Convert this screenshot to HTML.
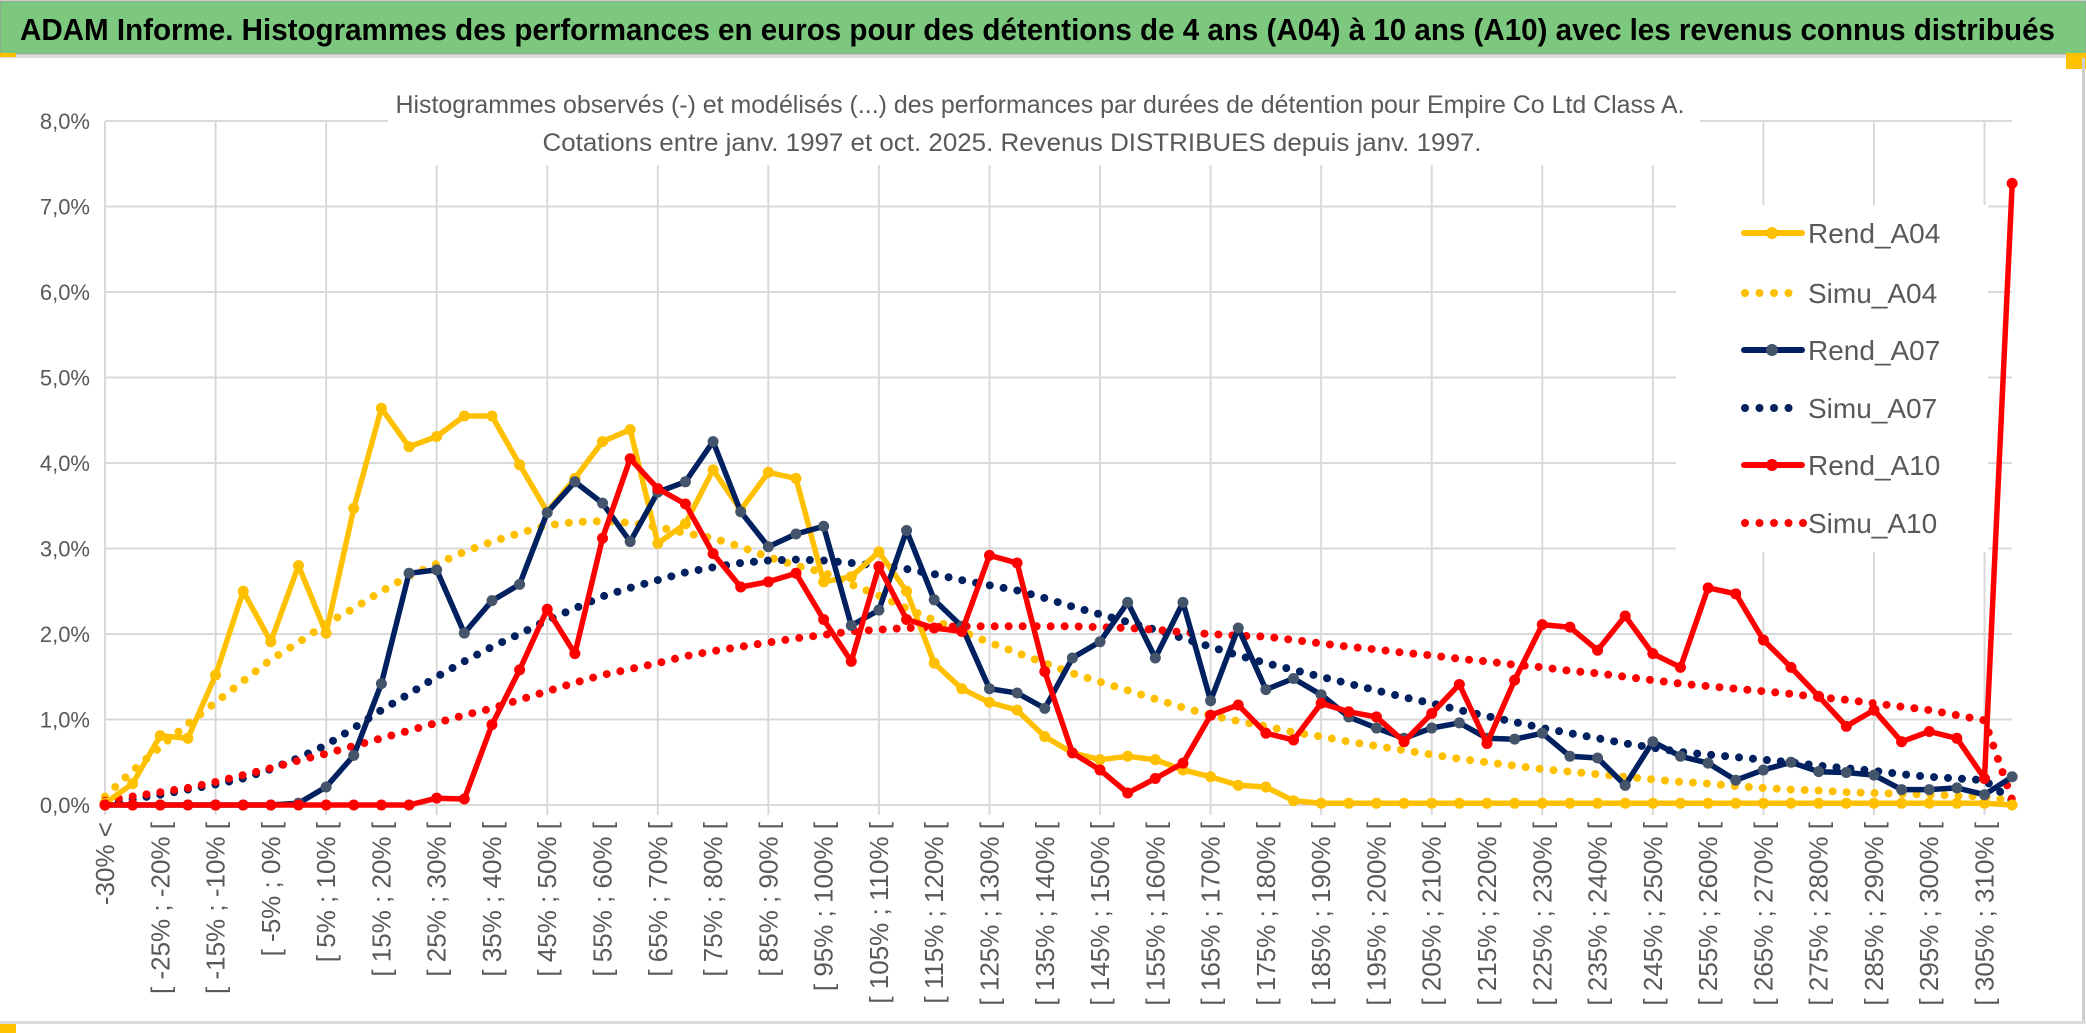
<!DOCTYPE html>
<html><head><meta charset="utf-8"><style>
html,body{margin:0;padding:0;background:#fff;}
svg{display:block;font-family:"Liberation Sans Narrow","Liberation Sans",sans-serif;}
</style></head><body>
<svg id="chart" width="2086" height="1033" viewBox="0 0 2086 1033" xmlns="http://www.w3.org/2000/svg">
<rect x="0" y="0" width="2086" height="1033" fill="#fff"/>
<rect x="0" y="1" width="2086" height="53" fill="#7DC87F" stroke="#999" stroke-width="1"/>
<text x="20" y="40" font-size="31" font-weight="bold" fill="#000" textLength="2035" lengthAdjust="spacingAndGlyphs">ADAM Informe. Histogrammes des performances en euros pour des détentions de 4 ans (A04) à 10 ans (A10) avec les revenus connus distribués</text>
<rect x="0" y="55" width="2086" height="3" fill="#ddd"/>
<rect x="0" y="53" width="16" height="4" fill="#FFC000"/>
<rect x="2066" y="53" width="20" height="16" fill="#FFC000"/>
<rect x="2082" y="58" width="3" height="966" fill="#ccc"/>
<rect x="0" y="1021" width="2086" height="3" fill="#ddd"/>
<rect x="0" y="1024" width="16" height="9" fill="#FFC000"/>
<g id="grid"></g>
<g id="series"></g>
<g id="yaxis"></g>
<g id="xaxis"></g>
<g>
<text x="1040" y="113" font-size="25" fill="#595959" text-anchor="middle" textLength="1289" lengthAdjust="spacingAndGlyphs">Histogrammes observés (-) et modélisés (...) des performances par durées de détention pour Empire Co Ltd Class A.</text>
<text x="1012" y="151" font-size="25" fill="#595959" text-anchor="middle" textLength="939" lengthAdjust="spacingAndGlyphs">Cotations entre janv. 1997 et oct. 2025. Revenus DISTRIBUES depuis janv. 1997.</text>
</g>
<g id="legend"></g>
</svg>
<script>
const yTicks = [0,1,2,3,4,5,6,7,8];
const yTickLabels = ["0,0%","1,0%","2,0%","3,0%","4,0%","5,0%","6,0%","7,0%","8,0%"];
const binStarts = [];
for (let k = -35; k <= 310; k += 5) binStarts.push(k);
const rendA04 = [0.02,0.25,0.81,0.78,1.52,2.5,1.91,2.8,2.01,3.47,4.64,4.19,4.31,4.55,4.55,3.98,3.43,3.82,4.25,4.39,3.06,3.29,3.92,3.45,3.89,3.82,2.61,2.67,2.96,2.5,1.66,1.36,1.2,1.11,0.8,0.61,0.53,0.57,0.53,0.41,0.33,0.23,0.21,0.05,0.02,0.02,0.02,0.02,0.02,0.02,0.02,0.02,0.02,0.02,0.02,0.02,0.02,0.02,0.02,0.02,0.02,0.02,0.02,0.02,0.02,0.02,0.02,0.02,0.02,0.0];
const simuA04 = [0.1,0.4,0.68,0.95,1.2,1.45,1.7,1.9,2.12,2.3,2.5,2.68,2.82,2.96,3.08,3.18,3.27,3.31,3.32,3.3,3.25,3.18,3.12,3.02,2.9,2.8,2.72,2.58,2.45,2.3,2.16,2.03,1.9,1.78,1.66,1.54,1.44,1.34,1.24,1.14,1.05,0.98,0.92,0.85,0.8,0.74,0.69,0.64,0.59,0.54,0.5,0.46,0.42,0.39,0.36,0.33,0.3,0.27,0.25,0.22,0.2,0.18,0.17,0.15,0.14,0.13,0.12,0.11,0.1,0.05];
const rendA07 = [0,0,0,0,0,0,0,0.02,0.21,0.58,1.42,2.71,2.75,2.01,2.39,2.58,3.42,3.78,3.53,3.08,3.66,3.78,4.25,3.43,3.02,3.17,3.26,2.1,2.28,3.21,2.4,2.09,1.36,1.31,1.13,1.72,1.91,2.37,1.72,2.37,1.22,2.07,1.35,1.48,1.29,1.03,0.9,0.78,0.9,0.96,0.78,0.77,0.84,0.57,0.55,0.23,0.74,0.57,0.49,0.29,0.41,0.5,0.39,0.38,0.35,0.18,0.18,0.2,0.12,0.33];
const simuA07 = [0.02,0.07,0.12,0.18,0.24,0.31,0.42,0.55,0.7,0.9,1.11,1.3,1.5,1.68,1.85,2.0,2.16,2.3,2.44,2.54,2.63,2.72,2.78,2.83,2.86,2.87,2.86,2.83,2.8,2.76,2.7,2.63,2.57,2.51,2.42,2.32,2.23,2.14,2.05,1.95,1.85,1.75,1.66,1.58,1.5,1.42,1.34,1.26,1.19,1.11,1.04,0.97,0.9,0.84,0.78,0.72,0.67,0.62,0.59,0.56,0.53,0.5,0.46,0.43,0.4,0.36,0.33,0.31,0.29,0.05];
const rendA10 = [0,0,0,0,0,0,0,0,0,0,0,0,0.08,0.07,0.94,1.58,2.29,1.77,3.12,4.05,3.7,3.52,2.94,2.55,2.61,2.71,2.17,1.68,2.79,2.17,2.07,2.03,2.92,2.83,1.56,0.61,0.41,0.14,0.31,0.49,1.05,1.17,0.84,0.76,1.19,1.09,1.03,0.74,1.07,1.41,0.72,1.46,2.11,2.08,1.81,2.21,1.77,1.61,2.54,2.47,1.93,1.61,1.27,0.92,1.11,0.74,0.86,0.78,0.31,7.27];
const simuA10 = [0.05,0.1,0.15,0.2,0.27,0.35,0.43,0.52,0.6,0.69,0.78,0.87,0.96,1.05,1.13,1.23,1.33,1.43,1.52,1.59,1.66,1.74,1.8,1.85,1.9,1.95,1.99,2.03,2.05,2.07,2.08,2.09,2.09,2.09,2.09,2.09,2.08,2.07,2.05,2.02,2.0,1.98,1.97,1.93,1.89,1.85,1.82,1.78,1.75,1.71,1.68,1.64,1.61,1.57,1.54,1.5,1.46,1.42,1.39,1.36,1.33,1.3,1.26,1.23,1.19,1.15,1.11,1.05,0.99,0.06];

const NS = "http://www.w3.org/2000/svg";
const X0 = 105, STEP = 27.64, Y0 = 805, YPER = 85.5, XR = 2012;
function xs(i){ return X0 + STEP * i; }
function ys(v){ return Y0 - YPER * v; }
function mk(tag, attrs, parent){ const e = document.createElementNS(NS, tag); for (const k in attrs) e.setAttribute(k, attrs[k]); parent.appendChild(e); return e; }

const grid = document.getElementById('grid');
yTicks.forEach(function(t){
  const l = mk('line', {x1: X0, x2: XR, y1: ys(t), y2: ys(t), stroke: '#d9d9d9', 'stroke-width': 2}, grid);
  
  
});
for (let i = 0; i < binStarts.length; i += 4) {
  const l = mk('line', {x1: xs(i), x2: xs(i), y1: ys(8), y2: Y0 + 10, stroke: '#d9d9d9', 'stroke-width': 2}, grid);
  
  
}
const sb = mk('rect', {x: 388, y: 60, width: 1312, height: 105, fill: '#fff'}, grid);


const lb = mk('rect', {x: 1676, y: 205, width: 312, height: 347, fill: '#fff'}, grid);



const yax = document.getElementById('yaxis');
yTicks.forEach(function(t, k){
  const tx = mk('text', {x: 90, y: ys(t) + 8, 'font-size': 22, fill: '#595959', 'text-anchor': 'end'}, yax);
  tx.textContent = yTickLabels[k];
  
  
});

const xax = document.getElementById('xaxis');
binStarts.forEach(function(b, i){
  if (i !== 0 && i % 2 !== 0) return;
  const lab = i === 0 ? '-30% <' : '[ ' + b + '% ; ' + (b + 5) + '% [';
  const tx = mk('text', {x: 0, y: 0, 'font-size': 26, fill: '#595959', 'text-anchor': 'end', transform: 'translate(' + (xs(i) + 9) + ',822) rotate(-90)'}, xax);
  tx.setAttribute('font-family', '"Liberation Sans", sans-serif');
  tx.textContent = lab;
  
  
});

const ser = document.getElementById('series');
function dotted(vals, color, name){
  const pts = vals.map(function(v, i){ return xs(i).toFixed(1) + ',' + ys(v).toFixed(1); }).join(' ');
  const p = mk('polyline', {points: pts, fill: 'none', stroke: color, 'stroke-width': 8, 'stroke-linecap': 'round', 'stroke-dasharray': '0 14'}, ser);
  
  
}
function solid(vals, color, mcolor, name){
  const g = mk('g', {}, ser);
  
  
  const pts = vals.map(function(v, i){ return xs(i).toFixed(1) + ',' + ys(v).toFixed(1); }).join(' ');
  const p = mk('polyline', {points: pts, fill: 'none', stroke: color, 'stroke-width': 5.5, 'stroke-linejoin': 'round'}, g);
  
  
  vals.forEach(function(v, i){
    const c = mk('circle', {cx: xs(i), cy: ys(v), r: 5.5, fill: mcolor}, g);
    
    
  });
}
dotted(simuA04, '#FFC000', 'simu-a04');
dotted(simuA07, '#002060', 'simu-a07');
dotted(simuA10, '#FF0000', 'simu-a10');
solid(rendA04, '#FFC000', '#FFC000', 'rend-a04');
solid(rendA07, '#002060', '#44546A', 'rend-a07');
solid(rendA10, '#FF0000', '#FF0000', 'rend-a10');

const leg = document.getElementById('legend');
const legItems = [
  ['Rend_A04', '#FFC000', '#FFC000', 'solid', 233],
  ['Simu_A04', '#FFC000', '#FFC000', 'dot', 293],
  ['Rend_A07', '#002060', '#44546A', 'solid', 350],
  ['Simu_A07', '#002060', '#002060', 'dot', 408],
  ['Rend_A10', '#FF0000', '#FF0000', 'solid', 465],
  ['Simu_A10', '#FF0000', '#FF0000', 'dot', 523]
];
legItems.forEach(function(it){
  const g = mk('g', {}, leg);
  
  
  const y = it[4];
  if (it[3] === 'solid') {
    mk('line', {x1: 1744, x2: 1802, y1: y, y2: y, stroke: it[1], 'stroke-width': 6, 'stroke-linecap': 'round'}, g);
    mk('circle', {cx: 1772, cy: y, r: 6, fill: it[2]}, g);
  } else {
    const n = it[0] === 'Simu_A10' ? 5 : 4;
    for (let k = 0; k < n; k++) mk('circle', {cx: 1745 + k * 14.5, cy: y, r: 4, fill: it[1]}, g);
  }
  const t = mk('text', {x: 1808, y: y + 10, 'font-size': 28, fill: '#595959'}, g);
  t.textContent = it[0];
});
</script>
</body></html>
